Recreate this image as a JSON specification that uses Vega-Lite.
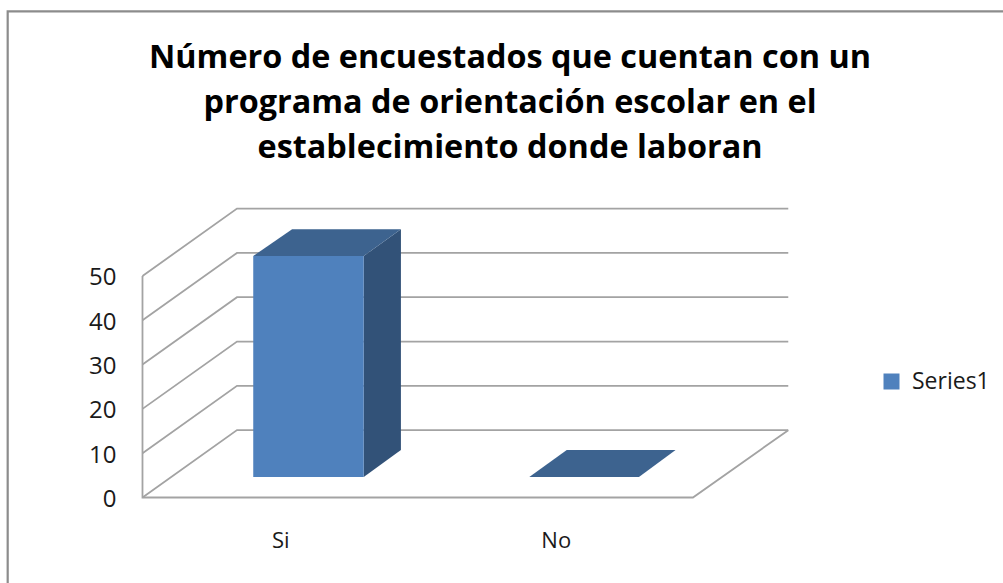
{
"$schema":"https://vega.github.io/schema/vega-lite/v6.json",
"width":996,"height":572,
"padding":{"left":7,"top":11,"right":0,"bottom":0},
"autosize":{"type":"none"},
"background":"white",
"config":{"view":{"stroke":null},"font":"Open Sans"},
"title":{"text":["Número de encuestados que cuentan con un","programa de orientación escolar en el","establecimiento donde laboran"],"font":"Open Sans","fontSize":32.4,"fontWeight":"bold","color":"#000000","lineHeight":45,"anchor":"middle","frame":"group","dx":5,"dy":157,"baseline":"top","offset":0},
"datasets":{
"marco":[{"x":-0.4893,"y":-19.3,"o":0},{"x":-0.4893,"y":109.7,"o":1},{"x":3.1234,"y":109.7,"o":2}],
"rejilla":[
{"v":"0","x":0,"y":0,"o":0},{"v":"0","x":0.343,"y":15.2,"o":1},{"v":"0","x":2.344,"y":15.2,"o":2},
{"v":"10","x":0,"y":10,"o":0},{"v":"10","x":0.343,"y":25.2,"o":1},{"v":"10","x":2.344,"y":25.2,"o":2},
{"v":"20","x":0,"y":20,"o":0},{"v":"20","x":0.343,"y":35.2,"o":1},{"v":"20","x":2.344,"y":35.2,"o":2},
{"v":"30","x":0,"y":30,"o":0},{"v":"30","x":0.343,"y":45.2,"o":1},{"v":"30","x":2.344,"y":45.2,"o":2},
{"v":"40","x":0,"y":40,"o":0},{"v":"40","x":0.343,"y":55.2,"o":1},{"v":"40","x":2.344,"y":55.2,"o":2},
{"v":"50","x":0,"y":50,"o":0},{"v":"50","x":0.343,"y":65.2,"o":1},{"v":"50","x":2.344,"y":65.2,"o":2},
{"v":"suelo","x":2.344,"y":15.2,"o":0},{"v":"suelo","x":1.998,"y":0,"o":1},{"v":"suelo","x":0,"y":0,"o":2},{"v":"suelo","x":0,"y":50,"o":3}
],
"frente":[{"categoria":"Si","valor":50,"serie":"Series1","x":0.402,"x2":0.803,"base":4.63,"tope":54.51}],
"lateral":[{"x":0.803,"y":4.63,"y2":54.51},{"x":0.938,"y":10.72,"y2":60.54}],
"tapa":[
{"categoria":"Si","y":54.51,"x":0.402,"x2":0.803},{"categoria":"Si","y":60.54,"x":0.543,"x2":0.938},
{"categoria":"No","y":4.63,"x":1.404,"x2":1.802},{"categoria":"No","y":10.72,"x":1.54,"x2":1.935}
]
},
"layer":[
{"data":{"name":"marco"},"mark":{"type":"line","color":"#8C8C8C","strokeWidth":2.2},
 "encoding":{"x":{"field":"x","type":"quantitative","scale":{"domain":[-0.4918,3.1234],"nice":false,"zero":false},
   "axis":{"values":[0.5,1.5],"labelExpr":"datum.value < 1 ? 'Si' : 'No'","title":null,"domain":false,"ticks":false,"grid":false,"offset":-55,"labelPadding":2,"labelBaseline":"top","labelFontSize":22,"labelColor":"#1a1a1a","labelFont":"Open Sans"}},
  "y":{"field":"y","type":"quantitative","scale":{"domain":[-19.3,109.8],"nice":false,"zero":false},
   "axis":{"values":[0,10,20,30,40,50],"title":null,"domain":false,"ticks":false,"grid":false,"offset":-109,"labelPadding":0,"labelOffset":2,"labelFontSize":24,"labelColor":"#1a1a1a","labelFont":"Open Sans"}},
  "order":{"field":"o"}}},
{"data":{"name":"rejilla"},"mark":{"type":"line","color":"#A3A3A3","strokeWidth":1.8},
 "encoding":{"x":{"field":"x","type":"quantitative"},"y":{"field":"y","type":"quantitative"},"detail":{"field":"v"},"order":{"field":"o"}}},
{"data":{"name":"lateral"},"mark":{"type":"area","color":"#325278"},
 "encoding":{"x":{"field":"x","type":"quantitative"},"y":{"field":"y","type":"quantitative"},"y2":{"field":"y2"}}},
{"data":{"name":"tapa"},"mark":{"type":"area","orient":"horizontal","color":"#3D638F"},
 "encoding":{"y":{"field":"y","type":"quantitative"},"x":{"field":"x","type":"quantitative"},"x2":{"field":"x2"},"detail":{"field":"categoria"}}},
{"data":{"name":"frente"},"mark":{"type":"rect"},
 "encoding":{"x":{"field":"x","type":"quantitative"},"x2":{"field":"x2"},"y":{"field":"base","type":"quantitative"},"y2":{"field":"tope"},
  "color":{"field":"serie","type":"nominal","scale":{"domain":["Series1"],"range":["#4F81BD"]},
   "legend":{"title":null,"orient":"none","legendX":873,"legendY":359,"padding":0,"symbolType":"square","symbolSize":256,"symbolStrokeWidth":0,"labelFontSize":23,"labelFont":"Open Sans","labelColor":"#1a1a1a","labelOffset":9}}}}
]
}
